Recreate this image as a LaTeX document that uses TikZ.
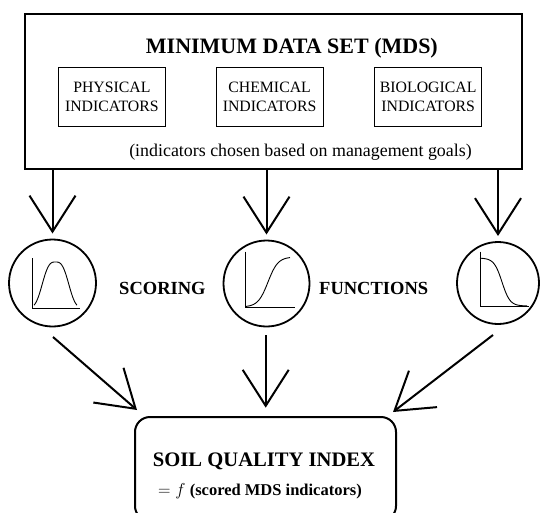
\documentclass[tikz,border=0pt]{standalone}
\usepackage{fontspec}
\setmainfont{Liberation Serif}
\usetikzlibrary{arrows.meta,calc}
\begin{document}
\begin{tikzpicture}[x=1pt,y=-1pt,
  bigbox/.style={draw, line width=2pt, inner sep=0pt, outer sep=0pt},
  subbox/.style={draw, line width=1.1pt, minimum width=107pt, minimum height=59.5pt, inner sep=0pt, align=center, font=\fontsize{15.8}{19}\selectfont},
  fnc/.style={circle, draw, line width=1.8pt, inner sep=0pt, outer sep=0pt},
  arr/.style={line width=2pt, -{Straight Barb[length=36pt,width=46pt]}},
  graph/.style={line width=0.9pt},
  lbl/.style={font=\fontsize{18.5}{22}\selectfont\bfseries, inner sep=0pt, anchor=base}
]
\useasboundingbox (0,0) rectangle (540,513);
\clip (0,0) rectangle (540,513);
\fill[white] (0,0) rectangle (540,513);

% Minimum data set box
\node[bigbox, minimum width=496.9pt, minimum height=154.9pt] (mds) at (273.25,91.25) {};
\node[font=\fontsize{22}{26}\selectfont\bfseries, inner sep=0pt, anchor=base] (mdstitle) at (291.9,53.4) {MINIMUM DATA SET (MDS)};
\node[subbox] (phys) at (111.9,97) {PHYSICAL\\INDICATORS};
\node[subbox] (chem) at (269.6,97) {CHEMICAL\\INDICATORS};
\node[subbox] (bio) at (428.2,97) {BIOLOGICAL\\INDICATORS};
\node[font=\fontsize{17.9}{21}\selectfont, inner sep=0pt, anchor=base] (note) at (300.5,157) {(indicators chosen based on management goals)};

% Scoring function circles
\node[fnc, minimum size=87pt] (c1) at (52.5,283) {};
\node[fnc, minimum size=86pt] (c2) at (266.5,283.5) {};
\node[fnc, minimum size=82pt] (c3) at (498,283) {};

\node[lbl] (scoring) at (162.4,294.8) {SCORING};
\node[lbl] (functions) at (373.7,294.8) {FUNCTIONS};

% graphs
\draw[graph] (32.3,258) -- (32.3,308.3) -- (80,308.3);
\draw[graph, domain=34:77, samples=90, smooth] plot (\x, {308 - 46*exp(-0.693*(abs(\x-55.5)/13.5)^3)});
\draw[graph] (245.7,251.7) -- (245.7,307.3) -- (295,307.3);
\draw[graph, domain=246:290, samples=70, smooth] plot (\x, {307 - 50/(1+exp(-(\x-268)/5))});
\draw[graph] (480,251.7) -- (480,306.7) -- (529,306.7);
\draw[graph, domain=480:527, samples=70, smooth] plot (\x, {258 + 48/(1+exp(-(\x-502)/4))});

% arrows MDS -> circles
\draw[arr, shorten >=6pt] (c1.north |- mds.south) -- (c1.north);
\draw[arr, shorten >=6pt] (c2.north |- mds.south) -- (c2.north);
\draw[arr, shorten >=6pt] (c3.north |- mds.south) -- (c3.north);

% Soil quality index box
\node[draw, line width=2pt, rounded corners=15pt, minimum width=261pt, minimum height=104pt, inner sep=0pt, outer sep=0pt] (sqi) at (265.5,469) {};
\node[font=\fontsize{20.6}{24}\selectfont\bfseries, inner sep=0pt, anchor=base] (sqititle) at (264,466.7) {SOIL QUALITY INDEX};
\node[font=\fontsize{16.5}{20}\selectfont\bfseries, inner sep=0pt, anchor=base] (sqif) at (260,495) {$= f$ (scored MDS indicators)};

% arrows circles -> SQI
\coordinate (s1) at ($(c1.south)+(0.5,10.5)$);
\coordinate (t1) at ($(sqi.north west)+(2,-7)$);
\coordinate (s2) at ($(c2.south)+(-0.8,8.5)$);
\coordinate (t2) at ($(sqi.north)+(0.2,-9.3)$);
\coordinate (s3) at ($(c3.south)+(-5,11)$);
\coordinate (t3) at ($(sqi.north east)+(-3,-5)$);
\draw[arr] (s1) -- (t1);
\draw[arr] (s2) -- (t2);
\draw[arr] (s3) -- (t3);
\end{tikzpicture}
\end{document}
